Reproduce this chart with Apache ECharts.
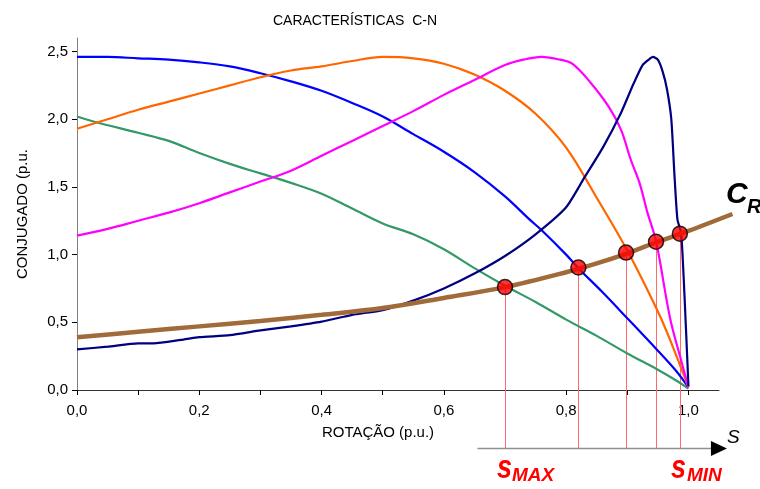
<!DOCTYPE html>
<html>
<head>
<meta charset="utf-8">
<script src="https://cdn.jsdelivr.net/npm/echarts@6/dist/echarts.min.js"></script>
<style>
  html, body { margin: 0; padding: 0; background: #ffffff; }
  #chart { width: 760px; height: 489px; }
</style>
</head>
<body>
<div id="chart"></div>
<script>
// Torque–speed characteristics (p.u.) of five rotor designs plus the load torque C_R.
const rotBlue   = [0, 0.05, 0.1, 0.15, 0.2, 0.25, 0.3, 0.35, 0.4, 0.45, 0.5, 0.55, 0.6, 0.65, 0.7, 0.74, 0.76, 0.8, 0.82, 0.86, 0.9, 0.95, 0.98, 1.0];
const torBlue   = [2.46, 2.46, 2.45, 2.44, 2.42, 2.39, 2.34, 2.28, 2.21, 2.12, 2.02, 1.89, 1.76, 1.61, 1.43, 1.26, 1.18, 1.00, 0.90, 0.72, 0.53, 0.29, 0.14, 0.02];

const rotOrange = [0, 0.05, 0.1, 0.15, 0.2, 0.25, 0.3, 0.35, 0.4, 0.45, 0.5, 0.55, 0.6, 0.65, 0.7, 0.75, 0.8, 0.85, 0.9, 0.95, 0.97, 1.0];
const torOrange = [1.93, 2.00, 2.07, 2.13, 2.19, 2.25, 2.31, 2.36, 2.39, 2.43, 2.46, 2.45, 2.41, 2.33, 2.21, 2.04, 1.79, 1.42, 1.03, 0.58, 0.37, 0.02];

const rotGreen  = [0, 0.03, 0.1, 0.15, 0.2, 0.25, 0.3, 0.35, 0.4, 0.45, 0.5, 0.55, 0.6, 0.65, 0.7, 0.75, 0.8, 0.85, 0.9, 0.95, 0.98, 1.0];
const torGreen  = [2.02, 1.98, 1.90, 1.84, 1.75, 1.67, 1.60, 1.53, 1.45, 1.34, 1.23, 1.15, 1.04, 0.90, 0.77, 0.65, 0.52, 0.40, 0.27, 0.15, 0.07, 0.01];

const rotPink   = [0, 0.05, 0.1, 0.15, 0.2, 0.25, 0.3, 0.35, 0.4, 0.45, 0.5, 0.55, 0.6, 0.65, 0.7, 0.73, 0.76, 0.79, 0.81, 0.84, 0.87, 0.89, 0.905, 0.92, 0.933, 0.947, 0.97, 0.988, 1.0];
const torPink   = [1.14, 1.19, 1.25, 1.31, 1.38, 1.46, 1.54, 1.62, 1.73, 1.84, 1.95, 2.06, 2.18, 2.29, 2.40, 2.44, 2.46, 2.44, 2.41, 2.27, 2.09, 1.92, 1.71, 1.53, 1.31, 1.10, 0.53, 0.22, 0.02];

const rotNavy   = [0, 0.05, 0.1, 0.125, 0.17, 0.2, 0.25, 0.3, 0.35, 0.4, 0.45, 0.5, 0.55, 0.6, 0.65, 0.7, 0.75, 0.8, 0.83, 0.86, 0.89, 0.91, 0.925, 0.935, 0.942, 0.95, 0.958, 0.965, 0.972, 0.977, 0.982, 0.988, 0.992, 0.996, 1.0];
const torNavy   = [0.30, 0.32, 0.345, 0.345, 0.37, 0.39, 0.405, 0.44, 0.47, 0.505, 0.555, 0.59, 0.66, 0.75, 0.86, 0.99, 1.15, 1.35, 1.57, 1.79, 2.05, 2.26, 2.40, 2.44, 2.46, 2.44, 2.35, 2.22, 2.00, 1.60, 1.26, 1.16, 0.85, 0.45, 0.03];

const rotLoad   = [0, 0.1, 0.2, 0.3, 0.4, 0.5, 0.6, 0.7, 0.8, 0.85, 0.9, 0.95, 1.0, 1.072];
const torLoad   = [0.39, 0.43, 0.47, 0.51, 0.555, 0.605, 0.68, 0.76, 0.87, 0.935, 1.01, 1.095, 1.175, 1.30];

// Operating points where each characteristic meets the load curve
const opRot     = [0.70, 0.82, 0.898, 0.947, 0.986];
const opTor     = [0.76, 0.905, 1.015, 1.095, 1.155];

// Slip axis drawn beneath the chart
const slipLevel = -0.43;
const slipStart = 0.655;
const slipEnd   = 1.063;

const yTicks = [0, 0.5, 1.0, 1.5, 2.0, 2.5];
const xTicks = [0, 0.1, 0.2, 0.3, 0.4, 0.5, 0.6, 0.7, 0.8, 0.9, 1.0];
const xLabels = [0, 0.2, 0.4, 0.6, 0.8, 1.0];

const pairs = (xs, ys) => xs.map((x, i) => [x, ys[i]]);
const fmt = v => v.toFixed(1).replace('.', ',');
const FONT = 'Liberation Sans, Arial, sans-serif';

// plot geometry: the load curve runs a little past the end of the rotation axis,
// so it lives on a second (hidden) grid with the same scale but a wider range
const PLOT_LEFT = 77, PLOT_TOP = 38, PLOT_BOTTOM = 99;
const X_MAX = 1.05, PLOT_RIGHT = 41;
const PX_PER_UNIT = (760 - PLOT_LEFT - PLOT_RIGHT) / X_MAX;
const X_MAX_WIDE = 1.075;
const PLOT_RIGHT_WIDE = 760 - PLOT_LEFT - PX_PER_UNIT * X_MAX_WIDE;

function curve(name, xs, ys, color, width, extra) {
  return Object.assign({
    name: name,
    type: 'line',
    data: pairs(xs, ys),
    showSymbol: false,
    smooth: 0.35,
    lineStyle: { color: color, width: width },
    itemStyle: { color: color },
    z: 3,
    silent: true
  }, extra || {});
}

const chart = echarts.init(document.getElementById('chart'), null, { renderer: 'canvas' });

chart.setOption({
  animation: false,
  backgroundColor: '#ffffff',
  title: {
    text: 'CARACTERÍSTICAS  C-N',
    left: 350,
    top: 9,
    textAlign: 'center',
    textStyle: { fontFamily: FONT, fontSize: 14, fontWeight: 'normal', color: '#000000' }
  },
  grid: [
    { left: PLOT_LEFT, right: PLOT_RIGHT, top: PLOT_TOP, bottom: PLOT_BOTTOM, containLabel: false },
    { left: PLOT_LEFT, right: PLOT_RIGHT_WIDE, top: PLOT_TOP, bottom: PLOT_BOTTOM, containLabel: false }
  ],
  xAxis: [
    {
      type: 'value',
      gridIndex: 0,
      min: 0,
      max: X_MAX,
      name: 'ROTAÇÃO (p.u.)',
      nameLocation: 'middle',
      nameGap: 35,
      nameTextStyle: { fontFamily: FONT, fontSize: 15, color: '#000000', padding: [0, 40, 0, 0] },
      axisLine: { lineStyle: { color: '#333333', width: 1 } },
      axisTick: { customValues: xTicks, length: 5, lineStyle: { color: '#000000' } },
      axisLabel: { customValues: xLabels, formatter: fmt, margin: 13, fontFamily: FONT, fontSize: 15, color: '#000000' },
      splitLine: { show: false }
    },
    { type: 'value', gridIndex: 1, min: 0, max: X_MAX_WIDE, show: false }
  ],
  yAxis: [
    {
      type: 'value',
      gridIndex: 0,
      min: 0,
      max: 2.6,
      name: 'CONJUGADO (p.u.',
      nameLocation: 'middle',
      nameGap: 47,
      nameRotate: 90,
      nameTextStyle: { fontFamily: FONT, fontSize: 15, color: '#000000' },
      axisLine: { show: true, lineStyle: { color: '#808080', width: 1 } },
      axisTick: { show: true, customValues: yTicks, length: 5, lineStyle: { color: '#000000' } },
      axisLabel: { customValues: yTicks, formatter: fmt, margin: 9, fontFamily: FONT, fontSize: 15, color: '#000000' },
      splitLine: { show: false }
    },
    { type: 'value', gridIndex: 1, min: 0, max: 2.6, show: false }
  ],
  series: [
    // drop lines from each operating point to the slip axis
    {
      type: 'custom',
      clip: false,
      silent: true,
      z: 1,
      data: pairs(opRot, opTor),
      renderItem: function (params, api) {
        const p1 = api.coord([api.value(0), api.value(1)]);
        const p2 = api.coord([api.value(0), slipLevel]);
        return {
          type: 'line',
          shape: { x1: Math.round(p1[0]) + 0.5, y1: p1[1], x2: Math.round(p2[0]) + 0.5, y2: p2[1] },
          style: { stroke: '#ff6a6a', lineWidth: 1 }
        };
      }
    },
    // slip axis with arrow head
    {
      type: 'custom',
      clip: false,
      silent: true,
      z: 1,
      data: [[slipStart, slipEnd]],
      renderItem: function (params, api) {
        const a = api.coord([api.value(0), slipLevel]);
        const b = api.coord([api.value(1), slipLevel]);
        const y = Math.round(a[1]) + 0.5;
        return {
          type: 'group',
          children: [
            { type: 'line', shape: { x1: a[0], y1: y, x2: b[0] - 14, y2: y }, style: { stroke: '#909090', lineWidth: 1.5 } },
            { type: 'polygon', shape: { points: [[b[0], y], [b[0] - 16, y - 7.5], [b[0] - 16, y + 7.5]] }, style: { fill: '#000000' } }
          ]
        };
      }
    },
    curve('A', rotGreen, torGreen, '#339966', 2.2),
    curve('B', rotBlue, torBlue, '#0000ff', 2.2),
    curve('C', rotOrange, torOrange, '#ff6600', 2.2),
    curve('D', rotPink, torPink, '#ff00ff', 2.2),
    curve('E', rotNavy, torNavy, '#000080', 2.2, { smooth: 0.2 }),
    curve('CR', rotLoad, torLoad, '#a06b38', 4.5, { xAxisIndex: 1, yAxisIndex: 1, z: 4 }),
    {
      type: 'scatter',
      data: pairs(opRot, opTor),
      symbol: 'circle',
      symbolSize: 15,
      itemStyle: { color: '#ff0000', borderColor: '#000000', borderWidth: 1.5 },
      z: 6,
      silent: true
    }
  ],
  graphic: [
    { type: 'text', left: 726, top: 180, style: { text: 'C', font: 'italic bold 30px ' + FONT, fill: '#000000' } },
    { type: 'text', left: 747, top: 197, style: { text: 'R', font: 'italic bold 20px ' + FONT, fill: '#000000' } },
    { type: 'text', left: 727, top: 428, style: { text: 'S', font: 'italic 19px ' + FONT, fill: '#000000' } },
    { type: 'text', left: 497, top: 452, scaleY: 1.25, style: { text: 's', font: 'italic bold 27px ' + FONT, fill: '#ff0000' } },
    { type: 'text', left: 512, top: 466, style: { text: 'MAX', font: 'italic bold 19px ' + FONT, fill: '#ff0000' } },
    { type: 'text', left: 671, top: 452, scaleY: 1.25, style: { text: 's', font: 'italic bold 27px ' + FONT, fill: '#ff0000' } },
    { type: 'text', left: 687, top: 466, style: { text: 'MIN', font: 'italic bold 19px ' + FONT, fill: '#ff0000' } }
  ]
});
</script>
</body>
</html>
